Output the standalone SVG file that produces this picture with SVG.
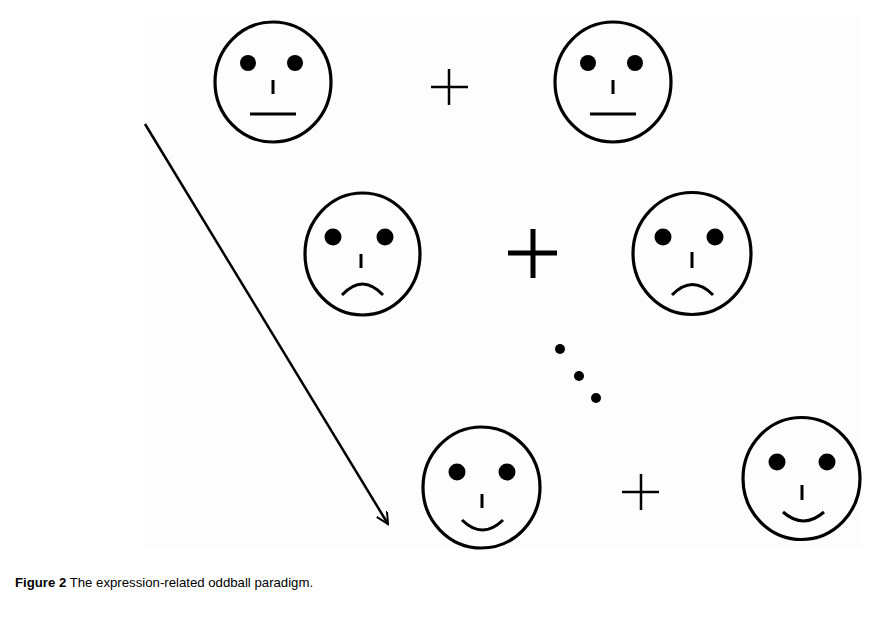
<svg xmlns="http://www.w3.org/2000/svg" width="892" height="627" viewBox="0 0 892 627">
<style>
.face{fill:none;stroke:#000;stroke-width:3.2}
.eye{fill:#000}
.feat{fill:none;stroke:#000;stroke-width:3}
.plus{stroke:#000;stroke-width:2.5}
.plusb{stroke:#000;stroke-width:5}
.cap{font-family:"Liberation Sans",Arial,sans-serif;font-size:13.2px;fill:#000}
</style>
<defs>
<marker id="ah" markerWidth="14" markerHeight="14" refX="12" refY="6" orient="auto" markerUnits="userSpaceOnUse">
<path d="M0,0 L12,6 L0,12" fill="none" stroke="#000" stroke-width="2"/>
</marker>
</defs>
<rect x="0" y="0" width="892" height="627" fill="#fff"/>
<rect x="143" y="15" width="719" height="532" fill="#fdfdfd"/>

<g id="face1">
<ellipse class="face" cx="273" cy="82" rx="58" ry="60"/>
<circle class="eye" cx="248" cy="63" r="8"/>
<circle class="eye" cx="295" cy="63" r="8"/>
<line class="feat" x1="273" y1="80" x2="273" y2="94"/>
<line class="feat" x1="250" y1="114" x2="296" y2="114"/>
</g>
<g id="plus1">
<line class="plus" x1="431" y1="87" x2="468" y2="87"/>
<line class="plus" x1="449" y1="69" x2="449" y2="105"/>
</g>
<g id="face2">
<ellipse class="face" cx="613" cy="82" rx="58" ry="60"/>
<circle class="eye" cx="588" cy="63" r="8"/>
<circle class="eye" cx="635" cy="63" r="8"/>
<line class="feat" x1="613" y1="80" x2="613" y2="94"/>
<line class="feat" x1="590" y1="114" x2="636" y2="114"/>
</g>

<g id="face3">
<ellipse class="face" cx="362.5" cy="254" rx="57.5" ry="61"/>
<circle class="eye" cx="333" cy="237" r="8.5"/>
<circle class="eye" cx="385" cy="237" r="8.5"/>
<line class="feat" x1="361" y1="254" x2="361" y2="268"/>
<path class="feat" d="M342,295 Q362.5,273 383,295"/>
</g>
<g id="plus2">
<line class="plusb" x1="508" y1="253" x2="557" y2="253"/>
<line class="plusb" x1="533" y1="229" x2="533" y2="278"/>
</g>
<g id="face4">
<ellipse class="face" cx="692" cy="253.5" rx="59" ry="61"/>
<circle class="eye" cx="663" cy="237" r="8.5"/>
<circle class="eye" cx="715" cy="237" r="8.5"/>
<line class="feat" x1="692" y1="252" x2="692" y2="268"/>
<path class="feat" d="M672,295 Q692.5,274 713,295"/>
</g>

<g id="dots">
<circle class="eye" cx="560" cy="349" r="5"/>
<circle class="eye" cx="579" cy="376" r="5"/>
<circle class="eye" cx="596" cy="398" r="5"/>
</g>

<g id="face5">
<ellipse class="face" cx="481.5" cy="487.5" rx="58.5" ry="60.5"/>
<circle class="eye" cx="457" cy="472" r="8.5"/>
<circle class="eye" cx="507" cy="472" r="8.5"/>
<line class="feat" x1="482" y1="494" x2="482" y2="508"/>
<path class="feat" d="M462,520 Q482.5,540 503,520"/>
</g>
<g id="plus3">
<line class="plus" x1="622" y1="492" x2="659" y2="492"/>
<line class="plus" x1="641" y1="474" x2="641" y2="510"/>
</g>
<g id="face6">
<ellipse class="face" cx="801.5" cy="478.5" rx="58.5" ry="61"/>
<circle class="eye" cx="777" cy="462" r="8.5"/>
<circle class="eye" cx="827" cy="462" r="8.5"/>
<line class="feat" x1="802" y1="485" x2="802" y2="500"/>
<path class="feat" d="M783,512 Q803.5,530 824,512"/>
</g>

<g id="connectors">
<line x1="145" y1="124" x2="388" y2="524" stroke="#000" stroke-width="2.5" marker-end="url(#ah)"/>
</g>

<text class="cap" x="15" y="587"><tspan font-weight="bold">Figure 2</tspan> The expression-related oddball paradigm.</text>
</svg>
